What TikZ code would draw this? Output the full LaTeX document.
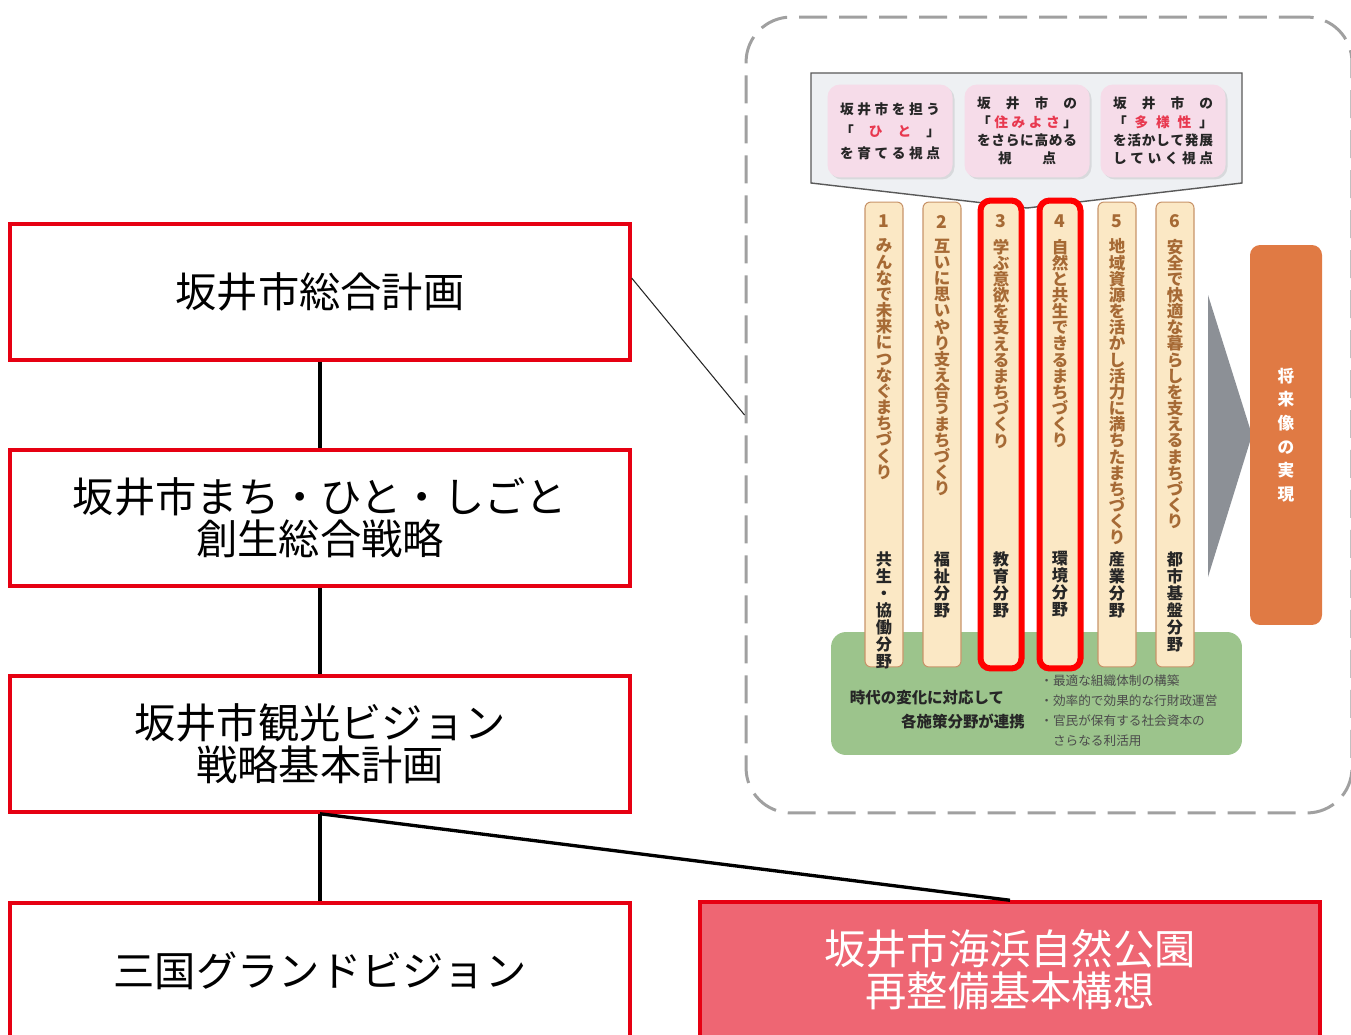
\documentclass[tikz,border=0pt]{standalone}
\usepackage{fontspec}
\setmainfont{Noto Sans CJK JP}
\usetikzlibrary{calc,shadows}

\definecolor{boxred}{HTML}{E60012}
\definecolor{parkpink}{HTML}{EE6673}
\definecolor{panelgray}{HTML}{A0A0A0}
\definecolor{headfill}{HTML}{EEF0F3}
\definecolor{viewpink}{HTML}{F6DCE9}
\definecolor{colfill}{HTML}{FBE8C5}
\definecolor{coledge}{HTML}{C8946A}
\definecolor{coltext}{HTML}{A66A35}
\definecolor{leafgreen}{HTML}{9CC48C}
\definecolor{goalorange}{HTML}{E07A44}
\definecolor{arrowgray}{HTML}{8C9096}
\definecolor{hlred}{HTML}{E8384F}

% one character per line
\def\vtxt#1{\vtxtfirst#1\relax}
\def\vtxtfirst#1{#1\vtxtnext}
\def\vtxtnext#1{\ifx#1\relax\else\\#1\expandafter\vtxtnext\fi}
% characters spread over a width
\def\sprd#1#2{\hbox to #1{\sprdfirst#2\relax}}
\def\sprdfirst#1{#1\sprdnext}
\def\sprdnext#1{\ifx#1\relax\else\hfill#1\expandafter\sprdnext\fi}
\newcommand\hlch[1]{{\color{hlred}#1}}

\begin{document}
\begin{tikzpicture}[x=0.02cm, y=-0.02cm,
    docbox/.style={draw=boxred, line width=0.07cm, minimum width=12.4cm, minimum height=2.72cm,
      align=center, font=\fontsize{23.5}{24}\selectfont},
    parkbox/.style={docbox, fill=parkpink, text=white},
    link/.style={line width=1.9pt},
    panelbox/.style={draw=panelgray, line width=0.06cm, dash pattern=on 0.56cm off 0.24cm,
      rounded corners=0.9cm, minimum width=12.12cm, minimum height=15.92cm},
    viewbox/.style={fill=viewpink, rounded corners=0.25cm, minimum width=2.5cm, minimum height=1.86cm,
      inner sep=0pt, align=center, text=black!85,
      drop shadow={opacity=0.2, shadow xshift=0.04cm, shadow yshift=-0.04cm}},
    pillar/.style={draw=coledge, fill=colfill, line width=0.6pt, rounded corners=0.12cm,
      minimum width=0.76cm, minimum height=9.3cm},
    focus/.style={draw=red, line width=0.12cm, rounded corners=0.2cm, minimum width=0.82cm, minimum height=9.36cm},
    numtxt/.style={text=coltext, font=\bfseries\fontsize{10}{10}\selectfont, inner sep=0pt},
    themetxt/.style={text=coltext, align=center, inner sep=0pt, font=\bfseries\fontsize{9.4}{9.2}\selectfont},
    fieldtxt/.style={text=black!85, align=center, inner sep=0pt, font=\bfseries\fontsize{9.2}{9.7}\selectfont},
    goalbox/.style={fill=goalorange, rounded corners=0.2cm, minimum width=1.44cm, minimum height=7.6cm,
      text=white, align=center, font=\bfseries\fontsize{9.5}{13.4}\selectfont}]
  \useasboundingbox (0,0) rectangle (1351,1034);

  % outline of the plan figure
  \node[panelbox] (panel) at (1049,415) {};

  % header with the three viewpoints
  \draw[gray!70!black, fill=headfill, line width=0.8pt] (811,73) -- (1242,73) -- (1242,183) -- (1027,208) -- (811,183) -- cycle;
  \node[viewbox, font=\bfseries\fontsize{7.8}{12.6}\selectfont] (viewA) at (890,131) {%
    \sprd{2cm}{坂井市を担う}\\
    \hbox to 2cm{「\hfill\hlch{ひ}\hfill\hlch{と}\hfill」}\\
    \sprd{2cm}{を育てる視点}};
  \node[viewbox, font=\bfseries\fontsize{7.8}{10.4}\selectfont] (viewB) at (1027,131) {%
    \sprd{2cm}{坂井市の}\\
    \hbox to 2cm{「\hfill\hlch{住}\hfill\hlch{み}\hfill\hlch{よ}\hfill\hlch{さ}\hfill」}\\
    \sprd{2cm}{をさらに高める}\\
    \sprd{1.16cm}{視点}};
  \node[viewbox, font=\bfseries\fontsize{7.8}{10.4}\selectfont] (viewC) at (1163,131) {%
    \sprd{2cm}{坂井市の}\\
    \hbox to 2cm{「\hfill\hlch{多}\hfill\hlch{様}\hfill\hlch{性}\hfill」}\\
    \sprd{2cm}{を活かして発展}\\
    \sprd{2cm}{していく視点}};

  % common base
  \node[fill=leafgreen, rounded corners=0.3cm, minimum width=8.22cm, minimum height=2.46cm] (base) at (1036.5,693.5) {};
  \node[font=\bfseries\fontsize{8.8}{10}\selectfont, text=black!85] (change) at (927,698) {時代の変化に対応して};
  \node[font=\bfseries\fontsize{8.8}{10}\selectfont, text=black!85] (cooperate) at (963,722) {各施策分野が連携};
  \node[anchor=west, align=left, inner sep=0pt, text=black!70, font=\fontsize{7.2}{11.3}\selectfont] (measures) at (1040,710.5) {%
    ・最適な組織体制の構築\\
    ・効率的で効果的な行財政運営\\
    ・官民が保有する社会資本の\\
    \phantom{・}さらなる利活用};

  % six policy pillars
  \foreach \i/\x/\theme/\field in {
      1/884/みんなで未来につなぐまちづくり/共生・協働分野,
      2/942/互いに思いやり支え合うまちづくり/福祉分野,
      3/1001/学ぶ意欲を支えるまちづくり/教育分野,
      4/1060/自然と共生できるまちづくり/環境分野,
      5/1117/地域資源を活かし活力に満ちたまちづくり/産業分野,
      6/1175/安全で快適な暮らしを支えるまちづくり/都市基盤分野}{
    \node[pillar] (col\i) at (\x,434.5) {};
    \node[numtxt] (num\i) at ([yshift=-0.4cm]col\i.north) {\i};
    \node[themetxt, anchor=north] (theme\i) at ([yshift=-0.74cm]col\i.north) {\expandafter\vtxt\expandafter{\theme}};
    \node[fieldtxt, anchor=north] (field\i) at ([yshift=-2.33cm]col\i.center) {\expandafter\vtxt\expandafter{\field}};
  }
  \node[focus] (focus3) at (col3) {};
  \node[focus] (focus4) at (col4) {};

  % towards the future image
  \fill[arrowgray] (1208,295) -- (1252,435) -- (1208,577) -- cycle;
  \node[goalbox] (goal) at (1286,435) {\vtxt{将来像の実現}};

  % plan hierarchy
  \node[docbox] (plan) at (320,292) {坂井市総合計画};
  \node[docbox] (sousei) at (320,518) {坂井市まち・ひと・しごと\\創生総合戦略};
  \node[docbox] (kanko) at (320,744) {坂井市観光ビジョン\\戦略基本計画};
  \node[docbox] (mikuni) at (320,971) {三国グランドビジョン};
  \node[parkbox] (kaihin) at (1010,970) {坂井市海浜自然公園\\再整備基本構想};

  \draw[link] (plan) -- (sousei);
  \draw[link] (sousei) -- (kanko);
  \draw[link] (kanko) -- (mikuni);
  \draw[link] (kanko.south) -- (kaihin.north);
  \draw[gray!30!black, line width=0.6pt] ($(plan.north east)!0.4!(plan.south east)$) -- (panel.west);
\end{tikzpicture}
\end{document}
